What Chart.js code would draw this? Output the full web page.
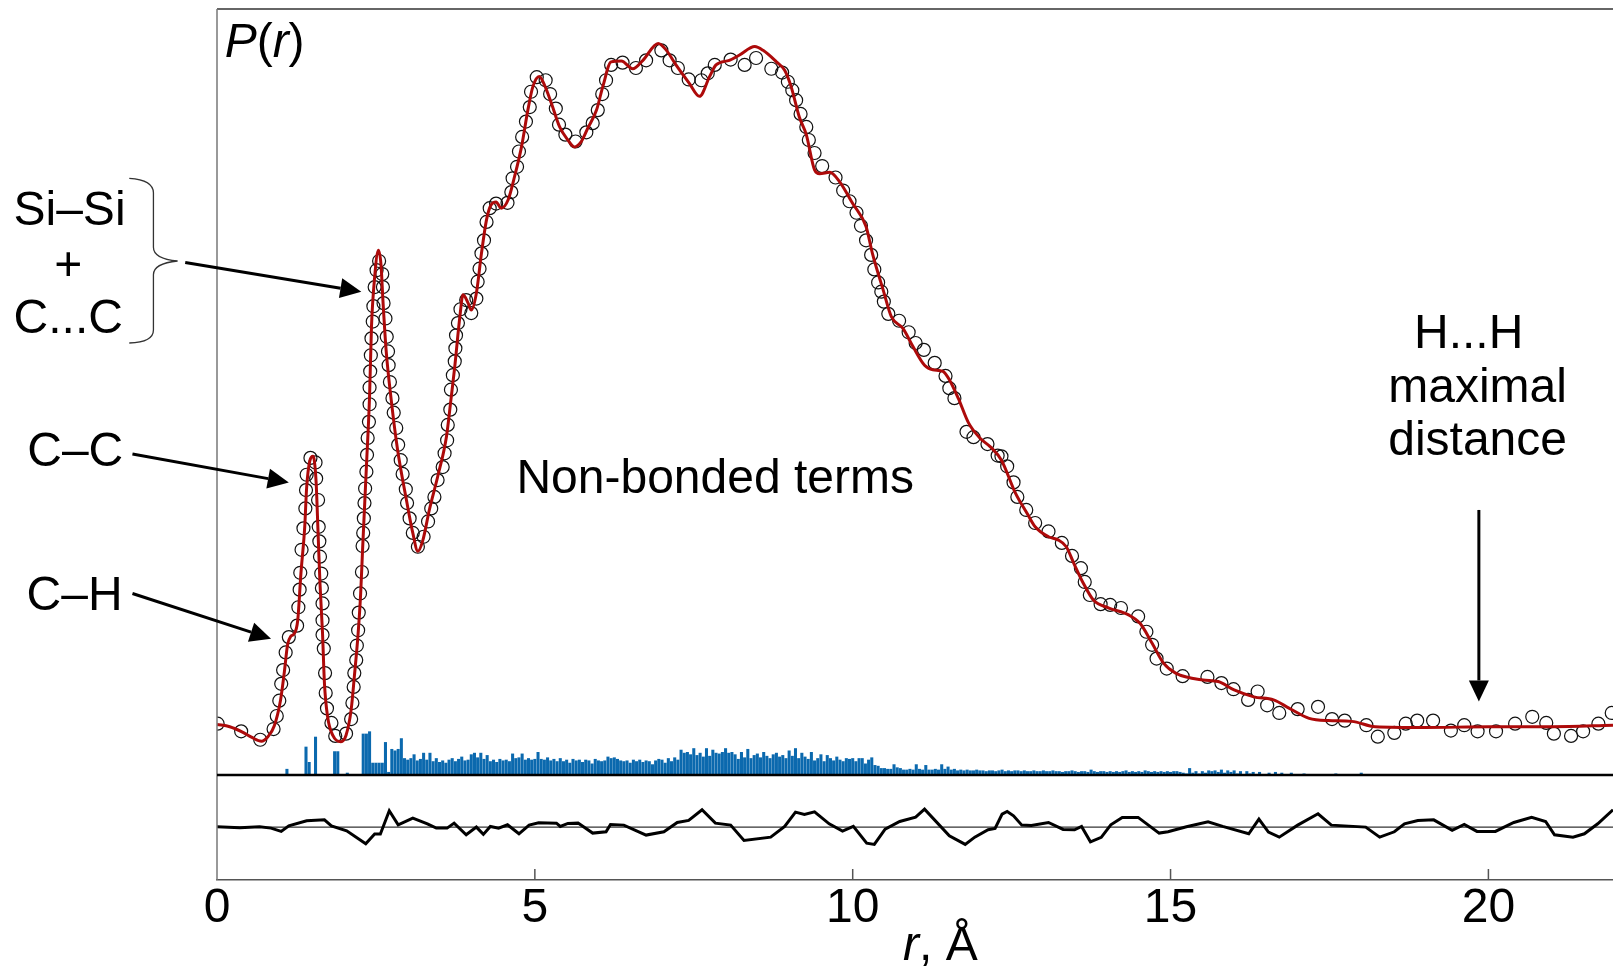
<!DOCTYPE html>
<html>
<head>
<meta charset="utf-8">
<title>P(r)</title>
<script src="https://cdn.jsdelivr.net/npm/chart.js@4.4.1/dist/chart.umd.min.js"></script>
<style>
  html, body { margin: 0; padding: 0; background: #fff; }
  #wrap { width: 1613px; height: 967px; }
</style>
</head>
<body>
<div id="wrap"><canvas id="pr" width="1613" height="967"></canvas></div>
<script>
// ---- data (r in Å, P(r) in arbitrary units, top of frame = 100) ----
const xTicks = [0, 5, 10, 15, 20];
const xMax = 21.96;

// fitted curve (red)
const curveR = [
  0.00,0.20,0.40,0.55,0.70,0.80,0.90,1.00,1.06,1.11,
  1.16,1.21,1.27,1.32,1.38,1.41,1.46,1.51,1.53,1.56,
  1.59,1.62,1.66,1.69,1.74,1.82,1.95,2.03,2.11,2.16,
  2.22,2.26,2.29,2.35,2.40,2.43,2.48,2.54,2.58,2.61,
  2.66,2.74,2.84,2.98,3.08,3.16,3.24,3.34,3.47,3.61,
  3.68,3.74,3.82,3.87,3.95,4.00,4.08,4.16,4.24,4.31,
  4.39,4.47,4.58,4.68,4.79,4.89,4.97,5.07,5.15,5.26,
  5.39,5.52,5.62,5.73,5.83,5.97,6.07,6.20,6.36,6.54,
  6.70,6.94,7.07,7.22,7.43,7.59,7.75,7.85,8.06,8.22,
  8.46,8.59,8.80,8.93,9.03,9.16,9.27,9.40,9.48,9.64,
  9.79,10.00,10.21,10.31,10.48,10.61,10.79,10.95,11.13,11.26,
  11.42,11.52,11.66,11.82,12.00,12.17,12.34,12.56,12.74,12.87,
  13.08,13.23,13.36,13.48,13.63,13.79,14.03,14.34,14.52,14.71,
  14.89,15.08,15.51,15.75,16.00,16.31,16.62,16.87,17.18,17.48,
  17.85,18.22,19.00,20.00,21.00,21.96
];
const curveP = [
  6.6,6.3,5.6,4.9,4.4,5.0,6.4,9.8,13.5,17.0,
  18.1,18.4,20.2,26.3,32.4,37.5,41.0,41.6,41.1,38.1,
  31.6,25.0,18.5,12.0,7.6,5.2,4.35,5.2,8.5,12.8,
  18.5,23.7,29.4,40.2,49.5,58.5,65.0,68.5,66.6,62.0,
  55.5,49.0,42.5,35.9,31.6,29.2,30.7,34.6,38.9,44.2,
  49.0,53.3,59.8,62.7,61.6,60.7,62.9,68.1,72.5,74.4,
  74.8,74.0,75.1,78.1,82.0,86.8,89.9,91.2,90.1,87.7,
  84.6,82.9,82.0,82.7,84.4,86.8,89.9,93.1,93.2,92.2,
  93.3,95.5,94.6,92.7,90.3,88.6,91.2,92.7,93.3,94.0,
  95.1,94.6,93.1,92.0,89.9,85.9,83.6,79.0,78.5,78.7,
  77.5,74.6,71.6,68.1,63.3,59.8,58.3,55.9,53.5,52.9,
  52.7,51.6,49.2,46.0,44.0,42.8,41.1,36.8,34.2,32.4,
  31.1,30.7,29.8,27.6,25.0,22.8,21.8,20.9,19.8,17.2,
  14.6,13.3,12.4,12.2,11.1,10.2,9.8,8.7,7.4,7.1,
  7.0,6.3,6.2,6.3,6.3,6.5
];

// experimental points (open circles)
const expR = [
  0.01,0.38,0.68,0.89,0.94,0.98,1.01,1.04,1.08,1.13,
  1.26,1.28,1.30,1.31,1.33,1.36,1.39,1.40,1.41,1.47,
  1.55,1.56,1.59,1.60,1.61,1.62,1.64,1.65,1.66,1.66,
  1.66,1.68,1.70,1.71,1.73,1.80,1.86,2.03,2.11,2.13,
  2.15,2.16,2.19,2.20,2.22,2.23,2.25,2.28,2.29,2.30,
  2.31,2.32,2.33,2.35,2.36,2.37,2.39,2.40,2.40,2.41,
  2.42,2.43,2.45,2.46,2.48,2.51,2.55,2.60,2.61,2.62,
  2.65,2.67,2.69,2.70,2.72,2.76,2.78,2.82,2.85,2.89,
  2.92,2.97,2.99,3.03,3.08,3.16,3.25,3.32,3.37,3.42,
  3.47,3.55,3.58,3.62,3.63,3.67,3.68,3.71,3.74,3.75,
  3.76,3.79,3.83,3.92,4.00,4.08,4.10,4.13,4.16,4.20,
  4.24,4.29,4.39,4.57,4.63,4.65,4.72,4.75,4.80,4.86,
  4.92,4.94,5.03,5.17,5.24,5.33,5.38,5.48,5.64,5.81,
  5.91,5.99,6.06,6.12,6.20,6.38,6.59,6.75,6.99,7.12,
  7.25,7.42,7.62,7.72,7.83,8.08,8.30,8.48,8.72,8.89,
  8.98,9.05,9.11,9.18,9.27,9.31,9.40,9.52,9.73,9.85,
  9.95,10.06,10.13,10.21,10.29,10.34,10.40,10.45,10.49,10.56,
  10.73,10.88,10.99,11.12,11.29,11.46,11.52,11.60,11.79,11.90,
  12.12,12.28,12.34,12.43,12.53,12.59,12.73,12.87,13.08,13.29,
  13.45,13.59,13.65,13.73,13.90,14.05,14.22,14.49,14.62,14.71,
  14.78,14.94,15.19,15.58,15.80,15.99,16.22,16.37,16.52,16.71,
  17.00,17.32,17.54,17.74,18.08,18.26,18.52,18.70,18.88,19.13,
  19.41,19.62,19.83,20.12,20.42,20.69,20.91,21.03,21.30,21.49,
  21.73,21.94
];
const expP = [
  6.7,5.7,4.6,6.0,7.7,9.7,11.9,13.7,16.0,18.0,
  19.5,21.9,24.2,26.4,29.4,32.2,34.8,37.2,39.2,41.4,
  40.8,38.7,35.9,32.4,30.5,28.5,26.3,24.4,22.4,20.2,
  18.3,16.5,13.3,10.7,8.7,6.8,5.1,5.4,7.3,9.4,
  11.5,13.3,15.0,16.9,18.9,21.2,23.7,26.5,29.9,31.6,
  33.5,35.5,37.4,39.6,41.8,44.0,46.1,48.4,50.6,52.7,
  54.8,57.0,59.2,61.2,63.7,65.9,67.1,65.4,63.7,61.6,
  59.6,57.2,55.3,53.5,51.3,49.2,47.3,45.3,43.1,41.1,
  39.3,37.3,35.5,33.5,31.6,29.8,31.1,33.1,34.8,36.3,
  38.5,40.2,42.0,43.7,45.7,47.7,50.3,52.2,54.0,55.7,
  57.4,59.0,60.8,62.0,60.3,62.2,64.4,66.1,68.1,69.8,
  72.2,74.0,74.6,74.7,76.1,77.9,79.4,81.4,83.3,85.3,
  87.2,89.2,91.1,90.7,88.9,87.0,84.9,83.6,82.7,83.9,
  85.1,86.8,88.9,90.7,92.7,93.0,92.3,93.3,94.6,93.3,
  92.3,90.8,90.7,91.6,92.7,93.4,92.7,93.6,92.2,91.7,
  90.5,89.4,88.1,86.3,84.6,82.9,81.2,79.5,78.0,76.3,
  74.9,73.4,71.7,69.8,67.9,66.0,64.3,63.1,61.8,60.2,
  59.3,57.8,56.4,55.5,53.8,52.1,50.5,49.2,44.8,44.1,
  43.2,41.7,41.6,40.3,38.2,36.3,34.6,32.9,31.8,30.3,
  28.6,27.0,25.2,23.5,22.3,22.2,21.8,20.7,18.7,17.0,
  15.2,13.9,12.9,12.8,12.0,11.2,9.8,10.9,9.1,8.1,
  8.6,8.9,7.3,7.1,6.5,5.0,5.5,6.7,7.1,7.1,
  5.8,6.5,5.7,5.7,6.7,7.6,6.8,5.4,5.1,5.7,
  6.7,8.1
];

// distance histogram (blue), bins of 0.05 Å starting at 1.05 Å
const histStart = 1.05;
const histStep = 0.05;
const histH = [
  0,0.8,0,0,0,0,0,3.7,1.7,0,5.0,0,0,0,0,0,3.1,3.1,0,0,
  0.3,0,0,0,0,5.4,5.4,5.7,1.6,1.6,1.6,1.6,4.3,0.4,3.4,3.2,3.4,4.8,2.2,2.0,
  2.2,2.7,1.9,2.1,2.9,2.0,2.9,1.8,2.2,1.7,1.9,1.6,2.0,2.2,1.8,2.1,2.4,1.9,2.0,2.7,
  2.9,2.3,2.9,2.1,2.6,1.8,2.0,1.7,2.1,1.9,2.0,1.8,2.8,2.2,2.3,2.8,2.0,2.2,2.0,2.1,
  3.0,2.1,2.0,2.3,1.9,2.1,1.8,2.2,1.8,2.0,1.6,2.1,1.9,2.0,1.7,2.0,1.9,1.5,2.1,1.9,
  1.8,1.9,2.4,2.2,2.3,2.1,1.9,1.8,1.9,1.6,2.0,1.8,2.0,1.7,1.9,1.8,1.4,1.9,2.1,2.0,
  1.6,2.2,1.8,2.3,2.0,3.3,2.9,3.0,2.7,3.5,2.6,2.9,2.4,3.5,2.5,3.3,2.9,2.8,3.0,3.5,
  2.9,3.0,2.7,2.1,3.0,2.3,3.4,2.2,2.6,2.8,2.3,3.0,2.5,2.2,2.7,2.9,2.4,2.6,2.2,3.2,
  2.5,3.5,2.2,2.9,2.4,2.1,3.0,1.9,2.2,2.7,1.8,2.6,2.2,1.9,2.4,2.0,1.8,2.2,2.1,2.2,
  1.8,2.2,2.2,1.5,2.0,2.3,1.3,1.2,0.9,0.9,0.8,0.8,1.4,1.0,0.9,0.7,0.7,0.8,0.7,1.4,
  0.8,0.7,1.3,0.7,0.7,0.8,0.7,1.4,0.8,1.1,0.7,0.8,0.6,0.7,0.6,0.7,0.6,0.6,0.7,0.6,
  0.6,0.5,0.6,0.6,0.5,0.6,0.7,0.5,0.6,0.5,0.6,0.6,0.5,0.6,0.5,0.5,0.6,0.5,0.5,0.6,
  0.5,0.5,0.6,0.5,0.5,0.4,0.5,0.5,0.6,0.5,0.4,0.5,0.5,0.4,0.7,0.5,0.4,0.5,0.5,0.4,
  0.5,0.4,0.5,0.4,0.5,0.6,0.4,0.5,0.4,0.5,0.4,0.6,0.5,0.4,0.5,0.4,0.5,0.4,0.5,0.4,
  0.5,0.5,0.4,0.3,0.2,0.9,0.3,0.5,0.2,0.5,0.3,0.6,0.5,0.6,0.4,0.7,0.3,0.6,0.4,0.6,
  0.2,0.5,0,0.5,0.2,0.4,0,0.4,0,0,0.3,0,0.4,0,0.3,0,0,0.3,0,0,
  0,0.2,0,0,0,0,0,0,0,0,0,0.2,0,0,0,0,0,0,0,0.3
];

// residual (lower panel)
const resR = [
  0,0.36,0.67,0.85,1.01,1.13,1.41,1.69,1.80,2.04,
  2.34,2.48,2.57,2.71,2.85,3.08,3.31,3.45,3.62,3.73,
  3.92,4.08,4.19,4.30,4.43,4.57,4.75,4.91,5.06,5.34,
  5.40,5.52,5.68,5.91,6.12,6.19,6.40,6.75,7.03,7.24,
  7.42,7.63,7.84,8.08,8.29,8.71,8.93,9.10,9.24,9.40,
  9.63,9.84,10.01,10.22,10.34,10.51,10.74,10.99,11.13,11.52,
  11.77,11.92,12.13,12.24,12.35,12.43,12.53,12.66,12.81,13.08,
  13.31,13.49,13.60,13.74,13.91,14.06,14.24,14.49,14.82,14.96,
  15.25,15.59,15.82,16.23,16.39,16.54,16.71,17.00,17.32,17.53,
  18.07,18.29,18.52,18.68,18.89,19.14,19.43,19.62,19.82,20.11,
  20.40,20.68,20.90,21.04,21.33,21.51,21.72,21.96
];
const resV = [
  0.04,-0.09,0.04,-0.13,-0.56,0.17,0.82,0.95,0.17,-0.48,
  -2.18,-0.91,-0.91,2.13,0.30,1.17,0.43,-0.13,-0.13,0.52,
  -1.0,0,-0.95,0.09,-0.13,0.30,-0.87,0.26,0.56,0.52,
  0.09,0.48,0.52,-0.78,-0.61,0.35,0.26,-1.04,-0.61,0.61,
  0.87,2.26,0.52,0.26,-1.74,-1.31,0.09,1.96,1.66,2.0,
  0.43,-0.52,0.09,-2.09,-2.26,-0.26,0.74,1.31,2.35,-1.14,
  -2.26,-1.31,-0.35,-0.17,1.70,2.05,1.48,0.26,0.22,0.61,
  -0.30,-0.35,0.09,-1.92,-1.34,0.30,1.27,1.27,-0.78,-0.61,
  0.04,0.69,0.09,-0.87,1.04,-0.65,-1.31,0.26,1.74,0.26,
  0,-1.31,-0.61,0.43,0.87,0.95,-0.43,0.35,-0.56,-0.56,
  0.61,1.27,0.74,-1.0,-1.31,-0.87,0.43,2.26
];

// ---- helpers ----
const FONT = '"Liberation Sans", Arial, Helvetica, sans-serif';
const pts = (xs, ys) => xs.map((x, i) => ({ x: x, y: ys[i] }));
const binR = histH.map((_, i) => +(histStart + i * histStep).toFixed(2));

// annotations, in data coordinates (r, P)
const labels = [
  { text: 'Si–Si', r: -2.32, p: 71.8 },
  { text: '+', r: -2.34, p: 64.6 },
  { text: 'C...C', r: -2.34, p: 57.7 },
  { text: 'C–C', r: -2.23, p: 40.3 },
  { text: 'C–H', r: -2.24, p: 21.5 },
  { text: 'H...H', r: 19.69, p: 55.7 },
  { text: 'maximal', r: 19.83, p: 48.7 },
  { text: 'distance', r: 19.83, p: 41.8 }
];
const arrows = [
  { from: [-0.50, 66.9], to: [2.27, 63.1] },
  { from: [-1.33, 41.9], to: [1.13, 38.2] },
  { from: [-1.33, 23.7], to: [0.85, 17.8] },
  { from: [19.85, 34.6], to: [19.85, 9.6] }
];

function drawArrow(ctx, x0, y0, x1, y1) {
  const ang = Math.atan2(y1 - y0, x1 - x0);
  const hl = 21, hw = 10;
  const bx = x1 - hl * Math.cos(ang), by = y1 - hl * Math.sin(ang);
  ctx.strokeStyle = '#000';
  ctx.lineWidth = 3;
  ctx.beginPath();
  ctx.moveTo(x0, y0);
  ctx.lineTo(bx, by);
  ctx.stroke();
  ctx.fillStyle = '#000';
  ctx.beginPath();
  ctx.moveTo(x1, y1);
  ctx.lineTo(bx + hw * Math.sin(ang), by - hw * Math.cos(ang));
  ctx.lineTo(bx - hw * Math.sin(ang), by + hw * Math.cos(ang));
  ctx.closePath();
  ctx.fill();
}

function drawPieces(ctx, pieces, x, y, align) {
  // pieces: [text, italic]
  let w = 0;
  pieces.forEach(([t, it]) => { ctx.font = (it ? 'italic ' : '') + '48px ' + FONT; w += ctx.measureText(t).width; });
  let cx = align === 'center' ? x - w / 2 : x;
  ctx.textAlign = 'left';
  pieces.forEach(([t, it]) => {
    ctx.font = (it ? 'italic ' : '') + '48px ' + FONT;
    ctx.fillText(t, cx, y);
    cx += ctx.measureText(t).width;
  });
}

const decor = {
  id: 'decor',
  afterDatasetsDraw(chart) {
    const { ctx, chartArea: a, scales } = chart;
    const x = scales.x, y = scales.y;
    const X = r => x.getPixelForValue(r);
    const Y = p => y.getPixelForValue(p);
    ctx.save();

    // frame
    ctx.lineWidth = 1.5;
    ctx.strokeStyle = '#333';
    ctx.beginPath(); ctx.moveTo(a.left, a.top); ctx.lineTo(a.right, a.top); ctx.stroke();
    ctx.strokeStyle = '#777';
    ctx.beginPath(); ctx.moveTo(a.left, a.top); ctx.lineTo(a.left, a.bottom); ctx.stroke();
    // panel separator (P = 0)
    ctx.strokeStyle = '#000';
    ctx.lineWidth = 2.5;
    ctx.beginPath(); ctx.moveTo(a.left, y.bottom); ctx.lineTo(a.right, y.bottom); ctx.stroke();
    // inward ticks on bottom axis
    ctx.strokeStyle = '#555';
    ctx.lineWidth = 1.5;
    xTicks.forEach(t => {
      if (t === 0) return;
      const px = X(t);
      ctx.beginPath(); ctx.moveTo(px, a.bottom); ctx.lineTo(px, a.bottom - 11); ctx.stroke();
    });

    // text labels
    ctx.fillStyle = '#000';
    ctx.textBaseline = 'alphabetic';
    ctx.font = '48px ' + FONT;
    ctx.textAlign = 'center';
    labels.forEach(l => ctx.fillText(l.text, X(l.r), Y(l.p)));
    ctx.textAlign = 'left';
    ctx.fillText('Non-bonded terms', X(4.71), Y(36.8));
    drawPieces(ctx, [['P', true], ['(', false], ['r', true], [')', false]], X(0.12), Y(93.7), 'left');
    drawPieces(ctx, [['r', true], [', Å', false]], X(11.38), x.bottom - 7, 'center');

    // brace
    ctx.strokeStyle = '#333';
    ctx.lineWidth = 1.3;
    ctx.beginPath();
    ctx.moveTo(X(-1.38), Y(77.9));
    ctx.quadraticCurveTo(X(-1.0), Y(77.7), X(-1.0), Y(76.0));
    ctx.lineTo(X(-1.0), Y(68.9));
    ctx.quadraticCurveTo(X(-1.0), Y(67.4), X(-0.62), Y(67.1));
    ctx.quadraticCurveTo(X(-1.0), Y(66.8), X(-1.0), Y(65.3));
    ctx.lineTo(X(-1.0), Y(58.1));
    ctx.quadraticCurveTo(X(-1.0), Y(56.5), X(-1.38), Y(56.4));
    ctx.stroke();

    // arrows
    arrows.forEach(ar => drawArrow(ctx, X(ar.from[0]), Y(ar.from[1]), X(ar.to[0]), Y(ar.to[1])));
    ctx.restore();
  }
};

new Chart(document.getElementById('pr'), {
  type: 'scatter',
  data: {
    datasets: [
      {
        type: 'line', label: 'fit', data: pts(curveR, curveP), yAxisID: 'y',
        borderColor: '#ad0a0a', borderWidth: 3, pointRadius: 0,
        cubicInterpolationMode: 'monotone', order: 1
      },
      {
        type: 'scatter', label: 'experiment', data: pts(expR, expP), yAxisID: 'y',
        pointRadius: 6.5, pointBorderWidth: 1.2, borderColor: '#111',
        backgroundColor: 'rgba(0,0,0,0)', order: 2
      },
      {
        type: 'bar', label: 'distances', data: pts(binR, histH), yAxisID: 'y',
        backgroundColor: '#0b69ae', barPercentage: 0.96, categoryPercentage: 1, order: 3
      },
      {
        type: 'line', label: 'residual', data: pts(resR, resV), yAxisID: 'y2',
        borderColor: '#000', borderWidth: 3, pointRadius: 0, tension: 0, order: 1
      },
      {
        type: 'line', label: 'zero', data: [{ x: 0, y: 0 }, { x: xMax, y: 0 }], yAxisID: 'y2',
        borderColor: '#000', borderWidth: 1, pointRadius: 0, order: 2
      }
    ]
  },
  options: {
    responsive: false,
    animation: false,
    layout: { autoPadding: false, padding: { left: 217, top: 9, right: 0, bottom: 0 } },
    plugins: { legend: { display: false }, tooltip: { enabled: false } },
    scales: {
      x: {
        type: 'linear', min: 0, max: xMax, offset: false,
        afterFit: s => { s.height = 87; s.paddingLeft = 0; s.paddingRight = 0; },
        grid: { display: false, drawTicks: false },
        border: { display: true, color: '#555', width: 1.5 },
        ticks: {
          stepSize: 5, includeBounds: false, maxRotation: 0, padding: 0,
          color: '#000', font: { family: FONT, size: 48 }
        }
      },
      y: {
        type: 'linear', position: 'left', stack: 'panels', stackWeight: 766, weight: 1,
        min: 0, max: 100,
        afterFit: s => { s.width = 0; s.paddingTop = 0; s.paddingBottom = 0; },
        grid: { display: false }, border: { display: false }, ticks: { display: false }
      },
      y2: {
        type: 'linear', position: 'left', stack: 'panels', stackWeight: 105, weight: 0,
        min: -6.9, max: 6.8,
        afterFit: s => { s.width = 0; s.paddingTop = 0; s.paddingBottom = 0; },
        grid: { display: false }, border: { display: false }, ticks: { display: false }
      }
    }
  },
  plugins: [decor]
});
</script>
</body>
</html>
